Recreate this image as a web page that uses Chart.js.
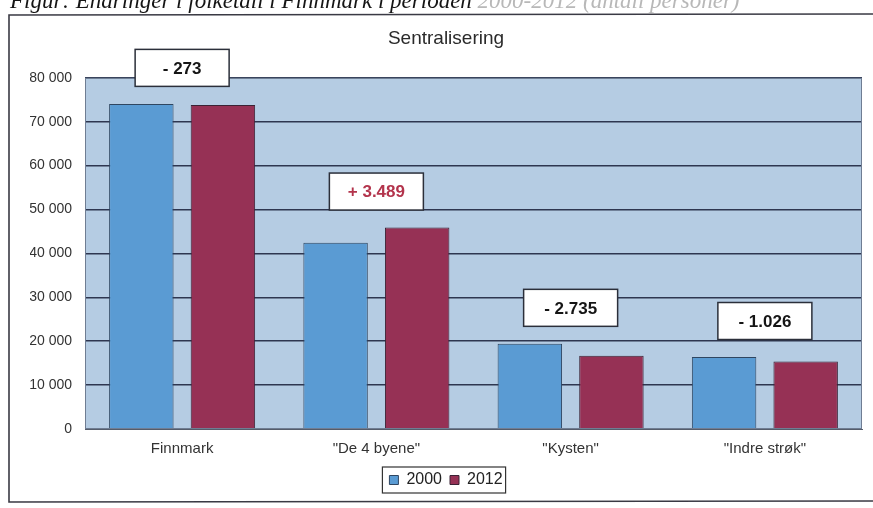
<!DOCTYPE html>
<html><head><meta charset="utf-8">
<script src="https://cdn.jsdelivr.net/npm/chart.js@4/dist/chart.umd.min.js"></script>
<style>html,body{margin:0;padding:0;background:#fff}#wrap{width:873px;height:508px;position:relative}</style>
</head><body><div id="wrap"><canvas id="c" width="873" height="508"></canvas></div>
<script>
const categories = ['Finnmark', '"De 4 byene"', '"Kysten"', '"Indre strøk"'];
const seriesNames = ['2000', '2012'];
const values2000 = [74059, 42400, 19400, 16400];
const values2012 = [73787, 45889, 16665, 15374];
const changeLabels = ['- 273', '+ 3.489', '- 2.735', '- 1.026'];
const chartTitle = 'Sentralisering';
const figureCaption = 'Figur: Endringer i folketall i Finnmark i perioden ';
const figureCaptionTail = '2000-2012 (antall personer)';

const FONT = '"Liberation Sans", Arial, sans-serif';

const decor = {
  id: 'decor',
  beforeDraw(chart) {
    const {ctx, chartArea: a} = chart;
    ctx.save();
    ctx.fillStyle = '#b5cce3';
    ctx.fillRect(a.left, a.top, a.right - a.left, a.bottom - a.top);
    ctx.restore();
  },
  afterDatasetsDraw(chart) {
    const {ctx, chartArea: a, scales} = chart;
    ctx.save();
    ctx.strokeStyle = '#6f7d93';
    ctx.lineWidth = 1;
    ctx.strokeRect(a.left + 0.5, a.top + 0.5, a.right - a.left - 1, a.bottom - a.top - 1);
    const m0 = chart.getDatasetMeta(0), m1 = chart.getDatasetMeta(1);
    changeLabels.forEach((lab, i) => {
      const cx = scales.x.getPixelForValue(i);
      const top = Math.min(m0.data[i].y, m1.data[i].y);
      const cy = top - 36;
      const w = 94, h = 37;
      ctx.fillStyle = '#ffffff';
      ctx.fillRect(cx - w / 2, cy - h / 2, w, h);
      ctx.strokeStyle = '#2b2f3a';
      ctx.lineWidth = 1.5;
      ctx.strokeRect(cx - w / 2, cy - h / 2, w, h);
      ctx.fillStyle = lab.trim().startsWith('+') ? '#b3344c' : '#151515';
      ctx.font = 'bold 17px ' + FONT;
      ctx.textAlign = 'center';
      ctx.textBaseline = 'middle';
      ctx.fillText(lab, cx, cy + 1);
    });
    ctx.restore();
  },
  afterDraw(chart) {
    const {ctx} = chart;
    ctx.save();
    const lg = chart.legend;
    if (lg && lg.legendHitBoxes && lg.legendHitBoxes.length) {
      const hb = lg.legendHitBoxes;
      const x0 = hb[0].left - 7, x1 = hb[hb.length - 1].left + hb[hb.length - 1].width + 3;
      const y0 = hb[0].top - 5, y1 = hb[0].top + hb[0].height + 5;
      ctx.strokeStyle = '#333';
      ctx.lineWidth = 1.2;
      ctx.strokeRect(x0, y0, x1 - x0, y1 - y0);
    }
    ctx.strokeStyle = '#3a3a44';
    ctx.lineWidth = 1.6;
    ctx.beginPath();
    ctx.moveTo(873, 14); ctx.lineTo(9, 15); ctx.lineTo(9, 502); ctx.lineTo(873, 501);
    ctx.stroke();
    ctx.font = 'italic 23px "Liberation Serif", "Times New Roman", serif';
    ctx.textBaseline = 'alphabetic';
    ctx.textAlign = 'left';
    ctx.fillStyle = '#151515';
    ctx.fillText(figureCaption, 10, 8);
    const w = ctx.measureText(figureCaption).width;
    ctx.fillStyle = '#b8b8b8';
    ctx.fillText(figureCaptionTail, 10 + w, 8);
    ctx.restore();
  }
};

new Chart(document.getElementById('c'), {
  type: 'bar',
  data: {
    labels: categories,
    datasets: [
      {label: seriesNames[0], data: values2000, backgroundColor: '#5a9bd3', borderColor: '#2f4661', borderWidth: 1},
      {label: seriesNames[1], data: values2012, backgroundColor: '#963155', borderColor: '#3b2235', borderWidth: 1}
    ]
  },
  options: {
    responsive: false,
    animation: false,
    devicePixelRatio: 1,
    layout: {padding: {left: 30, right: 11, top: 0, bottom: 10}},
    datasets: {bar: {categoryPercentage: 0.84, barPercentage: 0.79}},
    plugins: {
      title: {display: true, text: chartTitle, color: '#2a2a2a', font: {family: FONT, size: 19, weight: 'normal'}, padding: {top: 27, bottom: 28}},
      legend: {
        position: 'bottom',
        labels: {color: '#222', font: {family: FONT, size: 16}, boxWidth: 9, boxHeight: 9, padding: 8}
      },
      tooltip: {enabled: false}
    },
    scales: {
      x: {
        grid: {display: false, drawTicks: false},
        border: {display: true, color: '#555c6a', width: 1},
        ticks: {color: '#333', font: {family: FONT, size: 15}, padding: 11},
        afterFit(s) { s.height = 35; }
      },
      y: {
        min: 0, max: 80000,
        ticks: {stepSize: 10000, color: '#333', font: {family: FONT, size: 14}, padding: 13,
          callback: v => v === 0 ? '0' : String(v).replace(/\B(?=(\d{3})+(?!\d))/g, ' ')},
        grid: {color: '#2e3650', lineWidth: 1.5, drawTicks: false},
        border: {display: false},
        afterFit(s) { s.width = 55; }
      }
    }
  },
  plugins: [decor]
});
</script></body></html>
